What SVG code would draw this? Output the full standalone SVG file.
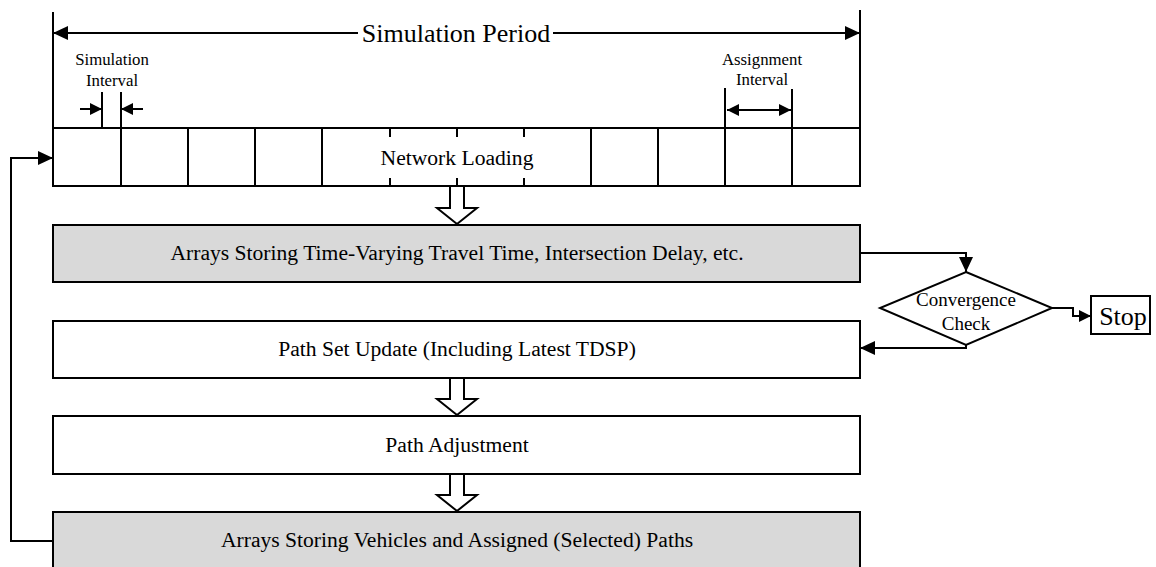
<svg xmlns="http://www.w3.org/2000/svg" width="1156" height="567" viewBox="0 0 1156 567">
<style>
.ln{stroke:#000;stroke-width:2;fill:none}
.box{stroke:#000;stroke-width:2;fill:#fff}
.gray{stroke:#000;stroke-width:2;fill:#d9d9d9}
.bar{stroke:#000;stroke-width:2;fill:#fff}
.t{font-family:"Liberation Serif","Times New Roman",serif;fill:#000;text-anchor:middle}
.bt{font-size:21.6px}
.st{font-size:16.8px}
</style>
<defs>
<marker id="ah" markerWidth="16" markerHeight="14" refX="15" refY="7" orient="auto-start-reverse" markerUnits="userSpaceOnUse">
<path d="M0,0 L15,7 L0,14 Z" fill="#000"/>
</marker>
<marker id="ahs" markerWidth="13" markerHeight="12" refX="12" refY="6" orient="auto-start-reverse" markerUnits="userSpaceOnUse">
<path d="M0,0 L12,6 L0,12 Z" fill="#000"/>
</marker>
</defs>

<g id="period">
<line class="ln" x1="53" y1="12" x2="53" y2="128"/>
<line class="ln" x1="860" y1="10" x2="860" y2="128"/>
<line class="ln" x1="53" y1="33" x2="358" y2="33" marker-start="url(#ah)"/>
<line class="ln" x1="553" y1="33" x2="860" y2="33" marker-end="url(#ah)"/>
<text class="t" x="456" y="42" font-size="26">Simulation Period</text>
</g>

<g id="simulation-interval">
<line class="ln" x1="102" y1="92" x2="102" y2="128"/>
<line class="ln" x1="121" y1="92" x2="121" y2="128"/>
<line class="ln" x1="80" y1="109" x2="102" y2="109" marker-end="url(#ahs)"/>
<line class="ln" x1="143" y1="109" x2="121" y2="109" marker-end="url(#ahs)"/>
<text class="t st" x="112" y="65">Simulation</text>
<text class="t st" x="112" y="86">Interval</text>
</g>

<g id="assignment-interval">
<line class="ln" x1="725" y1="88" x2="725" y2="128"/>
<line class="ln" x1="792" y1="89" x2="792" y2="128"/>
<line class="ln" x1="727" y1="110" x2="791" y2="110" marker-start="url(#ahs)" marker-end="url(#ahs)"/>
<text class="t st" x="762" y="65">Assignment</text>
<text class="t st" x="762" y="85">Interval</text>
</g>

<g id="network-loading">
<rect class="box" x="53" y="128" width="807" height="58"/>
<line class="ln" x1="121" y1="128" x2="121" y2="186"/>
<line class="ln" x1="188" y1="128" x2="188" y2="186"/>
<line class="ln" x1="255" y1="128" x2="255" y2="186"/>
<line class="ln" x1="322" y1="128" x2="322" y2="186"/>
<line class="ln" x1="591" y1="128" x2="591" y2="186"/>
<line class="ln" x1="658" y1="128" x2="658" y2="186"/>
<line class="ln" x1="725" y1="128" x2="725" y2="186"/>
<line class="ln" x1="792" y1="128" x2="792" y2="186"/>
<line class="ln" x1="390" y1="128" x2="390" y2="137"/>
<line class="ln" x1="457" y1="128" x2="457" y2="137"/>
<line class="ln" x1="524" y1="128" x2="524" y2="137"/>
<line class="ln" x1="390" y1="178" x2="390" y2="186"/>
<line class="ln" x1="457" y1="178" x2="457" y2="186"/>
<line class="ln" x1="524" y1="178" x2="524" y2="186"/>
<text class="t bt" x="457" y="165">Network Loading</text>
</g>

<g id="arrays-travel-time">
<rect class="gray" x="53" y="225" width="807" height="57"/>
<text class="t bt" x="457" y="260">Arrays Storing Time-Varying Travel Time, Intersection Delay, etc.</text>
</g>

<g id="path-set-update">
<rect class="box" x="53" y="321" width="807" height="57"/>
<text class="t bt" x="457" y="356">Path Set Update (Including Latest TDSP)</text>
</g>

<g id="path-adjustment">
<rect class="box" x="53" y="416" width="807" height="58"/>
<text class="t bt" x="457" y="452">Path Adjustment</text>
</g>

<g id="arrays-vehicles">
<rect class="gray" x="53" y="512" width="807" height="60"/>
<text class="t bt" x="457" y="547">Arrays Storing Vehicles and Assigned (Selected) Paths</text>
</g>

<g id="convergence-check">
<polygon class="box" points="966,272 1052,308 966,345 880,308"/>
<text class="t" x="966" y="306" font-size="19">Convergence</text>
<text class="t" x="966" y="330" font-size="19">Check</text>
</g>

<g id="stop">
<rect class="box" x="1091" y="296" width="59" height="38"/>
<text class="t" x="1123" y="325" font-size="26">Stop</text>
</g>

<g id="connectors">
<path class="bar" d="M450,186 L464,186 L464,208 L477,208 L457,224 L437,208 L450,208 Z"/>
<path class="bar" d="M450,378 L464,378 L464,399 L477,399 L457,415 L437,399 L450,399 Z"/>
<path class="bar" d="M450,474 L464,474 L464,495 L477,495 L457,511 L437,495 L450,495 Z"/>
<path class="ln" d="M860,253 L966,253 L966,272" marker-end="url(#ah)"/>
<path class="ln" d="M966,345 L966,348 L860,348" marker-end="url(#ah)"/>
<path class="ln" d="M1052,308 L1073,308 L1073,316 L1091,316" marker-end="url(#ahs)"/>
<path class="ln" d="M53,541 L11,541 L11,158 L53,158" marker-end="url(#ah)"/>
</g>
</svg>
